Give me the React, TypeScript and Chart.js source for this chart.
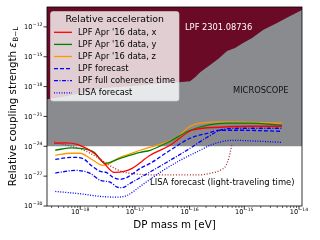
import React, { useEffect, useRef } from 'react';
import { Chart, registerables } from 'chart.js';
Chart.register(...registerables);

// Axis ranges
const X_MIN = 2.47e-19;
const X_MAX = 1.135e-14;
const Y_MIN = 1e-30;
const Y_MAX = 1e-10;
const xMajorExps = [-18, -17, -16, -15, -14];
const yMajorExps = [-30, -27, -24, -21, -18, -15, -12];
const xMinorMults = [2, 3, 4, 5, 6, 7, 8, 9];

// Series: LPF Apr '16 data, x
const redMass = [3.35e-19, 5.3e-19, 8.8e-19, 1.8e-18, 2.74e-18, 4.18e-18, 6.36e-18, 8.9e-18, 1.9e-17, 4.4e-17, 1.11e-16, 3.6e-16, 1.27e-15, 4.89e-15];
const redVal = [2.0e-24, 2.25e-24, 1.6e-24, 2.0e-25, 1.94e-26, 2.4e-27, 3.0e-27, 6.1e-27, 1.24e-25, 1.26e-24, 4.1e-23, 8.2e-23, 1.03e-22, 1.03e-22];
// LPF Apr '16 data, y
const greenMass = [3.5e-19, 7.1e-19, 1.0e-18, 1.8e-18, 2.86e-18, 5.38e-18, 1.25e-17, 1.9e-17, 4.4e-17, 1.02e-16, 4.84e-16, 1.27e-15, 4.89e-15];
const greenVal = [4.0e-25, 7.1e-25, 6.3e-25, 2.5e-25, 1.94e-26, 6.2e-26, 2.5e-25, 4.0e-25, 3.2e-24, 4.1e-23, 2.1e-22, 2.1e-22, 1.3e-22];
// LPF Apr '16 data, z
const orangeMass = [3.5e-19, 6.6e-19, 1.0e-18, 1.52e-18, 2.63e-18, 5.38e-18, 1.25e-17, 5.9e-17, 1.02e-16, 1.56e-16, 4.84e-16, 4.89e-15];
const orangeVal = [1.24e-25, 2.0e-25, 2.0e-25, 6.2e-26, 1.22e-26, 7.8e-26, 4.0e-25, 8.1e-24, 1.03e-22, 2.1e-22, 2.8e-22, 2.1e-22];
// LPF forecast
const fcMass = [3.5e-19, 7.1e-19, 1.09e-18, 1.66e-18, 2.32e-18, 2.98e-18, 4.0e-18, 5.38e-18, 7.22e-18, 1.25e-17, 1.9e-17, 4.4e-17, 1.02e-16, 2.09e-16, 3.6e-16, 8.36e-16, 4.89e-15];
const fcVal = [4.9e-26, 7.8e-26, 6.2e-26, 9.7e-27, 3.0e-27, 2.4e-27, 7.6e-28, 4.8e-28, 7.6e-28, 6.1e-27, 1.94e-26, 4.0e-25, 6.4e-24, 2.0e-23, 4.1e-23, 4.1e-23, 3.2e-23];
// LPF full coherence time
const cohMass = [3.5e-19, 8.1e-19, 1.52e-18, 2.32e-18, 3.53e-18, 4.74e-18, 5.85e-18, 8.19e-18, 1.9e-17, 4.4e-17, 1.02e-16, 2.09e-16, 3.6e-16, 8.36e-16, 4.89e-15];
const cohVal = [2.05e-27, 3.8e-27, 1.91e-27, 3.8e-28, 2.5e-28, 8.0e-29, 6.9e-29, 1.9e-28, 2.7e-27, 3.9e-26, 6.3e-25, 8.1e-24, 4.1e-23, 6.5e-23, 6.5e-23];
// LISA forecast
const lisaMass = [3.5e-19, 1.0e-18, 2.32e-18, 4.74e-18, 7.22e-18, 1.25e-17, 2.89e-17, 6.7e-17, 1.56e-16, 2.37e-16, 5.97e-16, 1.94e-15, 4.89e-15];
const lisaVal = [2.9e-29, 1.7e-29, 9.2e-30, 7.8e-30, 1.16e-29, 9.4e-29, 2.4e-27, 3.9e-26, 4.0e-25, 1.26e-24, 4.0e-24, 3.2e-24, 2.5e-24];
// LISA forecast (light-traveling time)
const lttMass = [3.35e-19, 5.3e-19, 1.0e-18, 1.52e-18, 2.32e-18, 3.68e-18, 5.61e-18, 8.55e-18, 1.9e-17, 4.4e-17, 1.56e-16, 2.37e-16, 3.6e-16, 4.64e-16, 5.26e-16, 5.73e-16, 5.97e-16];
const lttVal = [2.84e-24, 1.41e-24, 5.6e-25, 2.0e-25, 4.9e-26, 9.7e-27, 3.0e-27, 1.91e-27, 1.35e-27, 1.35e-27, 1.35e-27, 1.91e-27, 3.8e-27, 1.22e-26, 7.8e-26, 6.3e-25, 2.0e-24];
// LPF 2301.08736 excluded region boundary
const lpfMass = [2.47e-19, 4.3e-19, 1.0e-18, 2.32e-18, 8.19e-18, 2.89e-17, 6.43e-17, 1.02e-16, 1.26e-16, 1.56e-16, 2.37e-16, 3.32e-16, 4.84e-16, 6.78e-16, 9.5e-16, 1.39e-15, 2.2e-15, 3.96e-15, 6.9e-15, 1.135e-14];
const lpfVal = [5.4e-20, 8.6e-20, 2.17e-19, 6.9e-19, 1.1e-18, 2.2e-18, 2.8e-18, 3.5e-18, 8.9e-18, 2.83e-17, 1.44e-16, 5.8e-16, 3.7e-15, 7.4e-15, 2.36e-14, 7.5e-14, 4.8e-13, 2.4e-12, 1.24e-11, 5.0e-11];
// MICROSCOPE bound
const microMass = [X_MIN, X_MAX];
const microVal = [1e-24, 1e-24];

const legendTitle = 'Relative acceleration';
const FONT = '"DejaVu Sans", sans-serif';

const pts = (xs: number[], ys: number[]) => xs.map((x, i) => ({ x, y: ys[i] }));

function drawPow(ctx: CanvasRenderingContext2D, x: number, y: number, exp: number, align: string) {
  const base = '10';
  const sup = '\u2212' + Math.abs(exp);
  ctx.font = `6.6px ${FONT}`;
  const w1 = ctx.measureText(base).width;
  ctx.font = `4.6px ${FONT}`;
  const w2 = ctx.measureText(sup).width;
  const total = w1 + w2 + 0.3;
  const start = align === 'center' ? x - total / 2 : x - total;
  ctx.textBaseline = 'alphabetic';
  ctx.textAlign = 'left';
  ctx.fillStyle = '#000';
  ctx.font = `6.6px ${FONT}`;
  ctx.fillText(base, start, y + 2.4);
  ctx.font = `4.6px ${FONT}`;
  ctx.fillText(sup, start + w1 + 0.3, y - 0.9);
}

const decor = {
  id: 'decor',
  afterDatasetsDraw(chart: any) {
    const ctx: CanvasRenderingContext2D = chart.ctx;
    ctx.save();
    ctx.textAlign = 'left';
    ctx.textBaseline = 'alphabetic';
    ctx.font = `8.3px ${FONT}`;
    ctx.fillStyle = '#ffffff';
    ctx.fillText('LPF 2301.08736', 185, 30);
    ctx.fillStyle = '#111111';
    ctx.fillText('MICROSCOPE', 233, 93.3);
    ctx.font = `8.4px ${FONT}`;
    ctx.fillStyle = '#000000';
    ctx.fillText('LISA forecast (light-traveling time)', 150, 185);

    // legend
    const bx = 50.5, by = 11.5, bw = 128.5, bh = 89.5;
    ctx.beginPath();
    (ctx as any).roundRect(bx, by, bw, bh, 2.5);
    ctx.fillStyle = 'rgba(255,255,255,0.8)';
    ctx.fill();
    ctx.strokeStyle = 'rgba(204,204,204,0.8)';
    ctx.lineWidth = 0.8;
    ctx.stroke();
    ctx.font = `9.4px ${FONT}`;
    ctx.fillStyle = '#000';
    ctx.textAlign = 'center';
    ctx.textBaseline = 'middle';
    ctx.fillText(legendTitle, bx + bw / 2, 19.6);
    ctx.font = `8.3px ${FONT}`;
    const items = chart.data.datasets.filter((d: any) => d.inLegend);
    items.forEach((d: any, i: number) => {
      const y = 32.3 + i * 12.1;
      ctx.beginPath();
      ctx.setLineDash(d.borderDash || []);
      ctx.strokeStyle = d.borderColor;
      ctx.lineWidth = d.borderWidth;
      ctx.moveTo(54, y);
      ctx.lineTo(72, y);
      ctx.stroke();
      ctx.setLineDash([]);
      ctx.textAlign = 'left';
      ctx.fillStyle = '#000';
      ctx.fillText(d.label, 78, y + 0.3);
    });
    ctx.restore();
  },
  afterDraw(chart: any) {
    const ctx: CanvasRenderingContext2D = chart.ctx;
    const a = chart.chartArea;
    const xs = chart.scales.x;
    const ys = chart.scales.y;
    ctx.save();
    ctx.strokeStyle = '#000';
    ctx.lineWidth = 0.8;
    ctx.strokeRect(a.left, a.top, a.right - a.left, a.bottom - a.top);
    // x ticks
    for (let e = -19; e <= -14; e++) {
      const v = Math.pow(10, e);
      if (v >= X_MIN && v <= X_MAX) {
        const px = xs.getPixelForValue(v);
        ctx.lineWidth = 0.8;
        ctx.beginPath();
        ctx.moveTo(px, a.bottom);
        ctx.lineTo(px, a.bottom + 3.5);
        ctx.stroke();
      }
      xMinorMults.forEach((m) => {
        const mv = m * v;
        if (mv >= X_MIN && mv <= X_MAX) {
          const px = xs.getPixelForValue(mv);
          ctx.lineWidth = 0.6;
          ctx.beginPath();
          ctx.moveTo(px, a.bottom);
          ctx.lineTo(px, a.bottom + 2);
          ctx.stroke();
        }
      });
    }
    xMajorExps.forEach((e) => {
      const px = xs.getPixelForValue(Math.pow(10, e));
      drawPow(ctx, px, 211.5, e, 'center');
    });
    yMajorExps.forEach((e) => {
      const py = ys.getPixelForValue(Math.pow(10, e));
      ctx.lineWidth = 0.8;
      ctx.beginPath();
      ctx.moveTo(a.left, py);
      ctx.lineTo(a.left - 3.5, py);
      ctx.stroke();
      drawPow(ctx, 42.5, py, e, 'right');
    });
    // axis titles
    ctx.fillStyle = '#000';
    ctx.textAlign = 'center';
    ctx.textBaseline = 'alphabetic';
    ctx.font = `10.3px ${FONT}`;
    ctx.fillText('DP mass m [eV]', (a.left + a.right) / 2, 228);

    ctx.save();
    ctx.translate(16, (a.top + a.bottom) / 2);
    ctx.rotate(-Math.PI / 2);
    const main = 'Relative coupling strength ';
    ctx.font = `10.3px ${FONT}`;
    const w1 = ctx.measureText(main).width;
    ctx.font = `italic 10.3px ${FONT}`;
    const w2 = ctx.measureText('\u03b5').width;
    ctx.font = `7.2px ${FONT}`;
    const w3 = ctx.measureText('B\u2212L').width;
    const total = w1 + w2 + 0.5 + w3;
    let x0 = -total / 2;
    ctx.textAlign = 'left';
    ctx.font = `10.3px ${FONT}`;
    ctx.fillText(main, x0, 0);
    ctx.font = `italic 10.3px ${FONT}`;
    ctx.fillText('\u03b5', x0 + w1, 0);
    ctx.font = `7.2px ${FONT}`;
    ctx.fillText('B\u2212L', x0 + w1 + w2 + 0.5, 2.2);
    ctx.restore();
    ctx.restore();
  },
};

export default function App() {
  const ref = useRef<HTMLCanvasElement | null>(null);
  useEffect(() => {
    if (!ref.current) return;
    const line = (label: string, xs: number[], ys: number[], color: string, dash: number[], inLegend: boolean) => ({
      label,
      data: pts(xs, ys),
      borderColor: color,
      borderWidth: 1.3,
      borderDash: dash,
      pointRadius: 0,
      fill: false,
      cubicInterpolationMode: 'monotone',
      inLegend,
    });
    const chart = new Chart(ref.current, {
      type: 'line',
      data: {
        datasets: [
          line("LPF Apr '16 data, x", redMass, redVal, '#ff0000', [], true),
          line("LPF Apr '16 data, y", greenMass, greenVal, '#008000', [], true),
          line("LPF Apr '16 data, z", orangeMass, orangeVal, '#ff9900', [], true),
          line('LPF forecast', fcMass, fcVal, '#0000ff', [4, 2], true),
          line('LPF full coherence time', cohMass, cohVal, '#0000ff', [4, 1.5, 1, 1.5], true),
          line('LISA forecast', lisaMass, lisaVal, '#0000ff', [1, 1.5], true),
          line('LISA forecast (light-traveling time)', lttMass, lttVal, '#a52a2a', [1, 1.8], false),
          {
            label: 'LPF 2301.08736',
            data: pts(lpfMass, lpfVal),
            borderWidth: 0,
            borderColor: 'rgba(0,0,0,0)',
            backgroundColor: '#6b0a27',
            pointRadius: 0,
            fill: 'end',
            tension: 0,
          },
          {
            label: 'MICROSCOPE',
            data: pts(microMass, microVal),
            borderWidth: 0,
            borderColor: 'rgba(0,0,0,0)',
            backgroundColor: '#898b8f',
            pointRadius: 0,
            fill: 'end',
            tension: 0,
          },
        ] as any,
      },
      options: {
        animation: false,
        responsive: true,
        maintainAspectRatio: false,
        devicePixelRatio: 1,
        events: [],
        layout: { padding: { top: 7, right: 18, left: 0, bottom: 0 } },
        plugins: { legend: { display: false }, tooltip: { enabled: false } },
        scales: {
          x: {
            type: 'logarithmic',
            min: X_MIN,
            max: X_MAX,
            ticks: { display: false },
            grid: { display: false },
            border: { display: false },
            afterFit: (s: any) => { s.height = 34; },
          },
          y: {
            type: 'logarithmic',
            min: Y_MIN,
            max: Y_MAX,
            ticks: { display: false },
            grid: { display: false },
            border: { display: false },
            afterFit: (s: any) => { s.width = 47; },
          },
        },
      } as any,
      plugins: [decor],
    });
    return () => chart.destroy();
  }, []);
  return (
    <div style={{ position: 'fixed', left: 0, top: 0, width: 320, height: 240, background: '#fff' }}>
      <canvas ref={ref} />
    </div>
  );
}
